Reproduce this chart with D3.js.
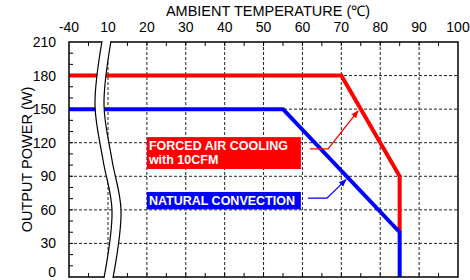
<!DOCTYPE html>
<html><head><meta charset="utf-8">
<script src="https://cdn.jsdelivr.net/npm/d3@7"></script>
<style>body{margin:0;background:#fff}svg{display:block}text{font-family:"Liberation Sans",Arial,sans-serif}</style>
</head><body><svg id="c" width="470" height="280"></svg>
<script>
const tempTicks = [-40, 10, 20, 30, 40, 50, 60, 70, 80, 90, 100];
const powerTicks = [0, 30, 60, 90, 120, 150, 180, 210];
const forcedTemp = [-40, 70, 85, 85];
const forcedPower = [180, 180, 90, 40];
const naturalTemp = [-40, 55, 85, 85];
const naturalPower = [150, 150, 40, 0];
const labels = ["FORCED AIR COOLING", "with 10CFM", "NATURAL CONVECTION"];

const svg = d3.select("#c");
const L = 69, R = 458, T = 42, B = 277;
const x = d3.scaleLinear().domain([-40, 10, 100]).range([L, 108, R]);
const y = d3.scaleLinear().domain([0, 210]).range([B, T]);

// gridlines
const grid = svg.append("g").attr("stroke", "#222").attr("stroke-width", 1).attr("stroke-dasharray", "3,2");
tempTicks.filter(t => t > -40 && t < 100).forEach(t => {
  grid.append("line").attr("x1", x(t)).attr("x2", x(t)).attr("y1", T).attr("y2", B);
});
powerTicks.filter(p => p > 0 && p < 210).forEach(p => {
  grid.append("line").attr("x1", L).attr("x2", R).attr("y1", y(p)).attr("y2", y(p));
});

// minor ticks
const mt = svg.append("g").attr("stroke", "#000").attr("stroke-width", 1);
for (let t = 15; t < 100; t += 5) {
  mt.append("line").attr("x1", x(t)).attr("x2", x(t)).attr("y1", T).attr("y2", T + 4);
  mt.append("line").attr("x1", x(t)).attr("x2", x(t)).attr("y1", B).attr("y2", B - 4);
}
{
  const px = (x(-40) + x(10)) / 2;
  mt.append("line").attr("x1", px).attr("x2", px).attr("y1", T).attr("y2", T + 4);
  mt.append("line").attr("x1", px).attr("x2", px).attr("y1", B).attr("y2", B - 4);
}
for (let p = 10; p < 210; p += 10) {
  mt.append("line").attr("x1", L).attr("x2", L + 4).attr("y1", y(p)).attr("y2", y(p));
}

// series
const line = d3.line().x(d => x(d[0])).y(d => y(d[1]));
svg.append("path").datum(forcedTemp.map((t, i) => [t, forcedPower[i]]))
  .attr("d", line).attr("fill", "none").attr("stroke", "#ff0000").attr("stroke-width", 4).attr("stroke-linejoin", "miter");
svg.append("path").datum(naturalTemp.map((t, i) => [t, naturalPower[i]]))
  .attr("d", line).attr("fill", "none").attr("stroke", "#0000ff").attr("stroke-width", 4).attr("stroke-linejoin", "miter");

// frame
svg.append("rect").attr("x", L).attr("y", T).attr("width", R - L).attr("height", B - T)
  .attr("fill", "none").attr("stroke", "#000").attr("stroke-width", 1.5);

// axis break (drawn over frame so it opens a gap)
const bx = x(10);
const leftPts = [[bx - 6, T - 1], [bx - 13, 105], [bx - 5, 160], [bx + 4, 210], [bx - 4, B + 1]];
const rightPts = leftPts.map(p => [p[0] + 9, p[1]]).reverse();
const curve = d3.line().curve(d3.curveCatmullRom);
const lp = curve(leftPts), rp = curve(rightPts);
svg.append("path").attr("d", lp + "L" + rp.slice(1) + "Z").attr("fill", "#fff").attr("stroke", "none");
svg.append("path").attr("d", lp).attr("fill", "none").attr("stroke", "#000").attr("stroke-width", 1.2);
svg.append("path").attr("d", rp).attr("fill", "none").attr("stroke", "#000").attr("stroke-width", 1.2);

// label boxes
svg.append("rect").attr("x", x(20)).attr("y", y(125)).attr("width", x(59.6) - x(20)).attr("height", y(96.5) - y(125)).attr("fill", "#ff0000");
svg.append("text").attr("x", x(20) + 2).attr("y", y(125) + 13).attr("fill", "#fff").attr("font-weight", "bold").attr("font-size", 12.5).text(labels[0]);
svg.append("text").attr("x", x(20) + 2).attr("y", y(125) + 27).attr("fill", "#fff").attr("font-weight", "bold").attr("font-size", 12.5).text(labels[1]);
svg.append("rect").attr("x", x(20)).attr("y", y(76)).attr("width", x(59.6) - x(20)).attr("height", y(60.5) - y(76)).attr("fill", "#0000ff");
svg.append("text").attr("x", x(20) + 2).attr("y", y(76) + 13).attr("fill", "#fff").attr("font-weight", "bold").attr("font-size", 12.5).text(labels[2]);

// arrows
const defs = svg.append("defs");
[["ar", "#ff0000"], ["ab", "#0000ff"]].forEach(([id, c]) => {
  defs.append("marker").attr("id", id).attr("viewBox", "0 0 10 10").attr("refX", 9).attr("refY", 5)
    .attr("markerWidth", 6).attr("markerHeight", 6).attr("orient", "auto")
    .append("path").attr("d", "M0,1L10,5L0,9Z").attr("fill", c);
});
svg.append("path").datum([[61.9, 114.5], [66.6, 114.5], [74.3, 148.5]]).attr("d", line)
  .attr("fill", "none").attr("stroke", "#ff0000").attr("stroke-width", 1.3).attr("marker-end", "url(#ar)");
svg.append("path").datum([[61.4, 70.5], [66.3, 70.5], [71.2, 87]]).attr("d", line)
  .attr("fill", "none").attr("stroke", "#0000ff").attr("stroke-width", 1.3).attr("marker-end", "url(#ab)");

// tick labels
svg.append("g").selectAll("text").data(tempTicks).join("text")
  .attr("x", d => x(d)).attr("y", 32).attr("text-anchor", "middle").attr("font-size", 14).text(d => d);
svg.append("g").selectAll("text").data(powerTicks).join("text")
  .attr("x", 56).attr("y", d => Math.min(y(d) + 5, 276.5)).attr("text-anchor", "end").attr("font-size", 14).text(d => d);

// titles
svg.append("text").attr("x", 268).attr("y", 16).attr("text-anchor", "middle").attr("font-size", 14.5).text("AMBIENT TEMPERATURE (℃)");
svg.append("text").attr("transform", `translate(32,${(T + B) / 2}) rotate(-90)`).attr("text-anchor", "middle").attr("font-size", 14.5).text("OUTPUT POWER (W)");
</script></body></html>
